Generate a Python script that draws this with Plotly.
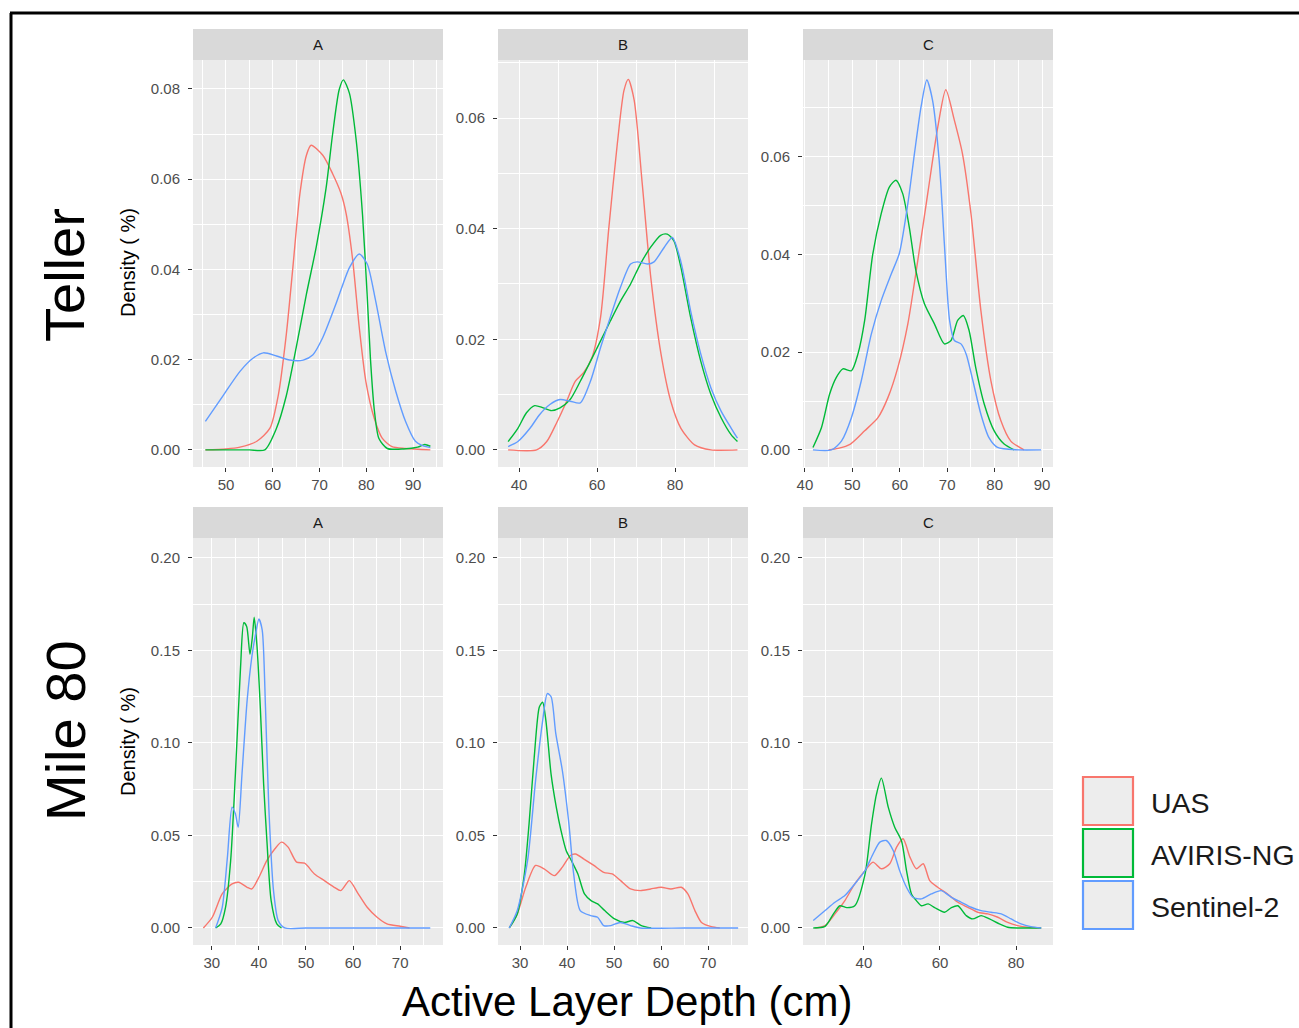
import plotly.graph_objects as go

W, H = 1299, 1028

SERIES = ["UAS", "AVIRIS-NG", "Sentinel-2"]
COLORS = ["#F8766D", "#00BA38", "#619CFF"]
PANELS = ["A", "B", "C"]
ROWS = ["Teller", "Mile 80"]

# ---------------- Teller ----------------
TA_UAS_X = [45.6, 50, 53, 56.6, 59.4, 61.2, 62.9, 64.3, 65.8, 67.2, 68.2, 70.7, 72.8, 74.6, 75.7, 77.1, 78.5, 79.9, 81.7, 83.4, 85.5, 88.4, 93.7]
TA_UAS_Y = [0, 0.0002, 0.0006, 0.0019, 0.0048, 0.0122, 0.0256, 0.0404, 0.0567, 0.0653, 0.0675, 0.0653, 0.0612, 0.0568, 0.0523, 0.042, 0.0271, 0.0152, 0.007, 0.0026, 0.0007, 0.0003, 0.0]
TA_AVI_X = [45.6, 50, 55, 58.3, 60.8, 62.9, 65, 67.2, 69.3, 71.4, 72.8, 74.2, 75.1, 76.4, 77.8, 79.2, 80.2, 80.9, 81.7, 82.7, 84.5, 88, 91, 92.5, 93.7]
TA_AVI_Y = [0, 0, 0, 0, 0.0048, 0.012, 0.0226, 0.0345, 0.045, 0.058, 0.070, 0.0798, 0.082, 0.079, 0.069, 0.052, 0.034, 0.02, 0.009, 0.0025, 0.0003, 0.0002, 0.0006, 0.0012, 0.0008]
TA_SEN_X = [45.6, 49.5, 53, 55.9, 58, 60.8, 63.6, 66.5, 68.6, 70.7, 73.5, 76.4, 78.5, 80.2, 82, 84.1, 86.3, 88.4, 90.5, 91.9, 93.7]
TA_SEN_Y = [0.0063, 0.0122, 0.0174, 0.0204, 0.0215, 0.0208, 0.0199, 0.0199, 0.0211, 0.0249, 0.0323, 0.0404, 0.0434, 0.0412, 0.033, 0.0219, 0.013, 0.0063, 0.0019, 0.001, 0.0005]

TB_UAS_X = [37.2, 44.5, 47.1, 49.7, 52.2, 54.4, 56.6, 58.7, 60.9, 63, 65.2, 66.9, 68, 69.5, 71.6, 73.8, 76.4, 78.9, 81.5, 85, 89.2, 96]
TB_UAS_Y = [0, 0, 0.0015, 0.005, 0.0088, 0.0124, 0.014, 0.0167, 0.024, 0.040, 0.0554, 0.065, 0.067, 0.0633, 0.048, 0.031, 0.0173, 0.0088, 0.0039, 0.0009, 0, 0]
TB_AVI_X = [37.2, 39.7, 41.9, 44, 46.2, 48.3, 50.5, 53.1, 55.7, 58.3, 60.9, 63.4, 66, 68.6, 71.1, 73.7, 76.3, 78, 79.7, 81.5, 84, 86.6, 89.2, 91.8, 94.4, 96]
TB_AVI_Y = [0.0015, 0.0039, 0.0067, 0.008, 0.0076, 0.0071, 0.0076, 0.0091, 0.0124, 0.016, 0.0197, 0.0233, 0.0269, 0.030, 0.0336, 0.0366, 0.0388, 0.039, 0.0378, 0.033, 0.0239, 0.016, 0.010, 0.0058, 0.0027, 0.0015]
TB_SEN_X = [37.2, 39.7, 42.8, 45.3, 47.9, 50.5, 53.1, 55.7, 58.3, 60.9, 63.4, 66, 68.6, 70.3, 72.9, 74.6, 77.2, 79.3, 81.5, 84, 86.6, 89.2, 91.8, 94.4, 96]
TB_SEN_Y = [0.0006, 0.0015, 0.0039, 0.0064, 0.0082, 0.0091, 0.0088, 0.0085, 0.0124, 0.0185, 0.024, 0.0294, 0.0336, 0.034, 0.0336, 0.034, 0.0366, 0.0384, 0.034, 0.0251, 0.0173, 0.0112, 0.007, 0.0039, 0.0021]

TC_UAS_X = [45, 47, 49.6, 52.6, 55.4, 57.5, 59.6, 61.7, 63.8, 65.9, 68, 69.7, 71.5, 73.2, 75, 77.1, 79.2, 81.3, 83.4, 86.2]
TC_UAS_Y = [0, 0.0003, 0.0012, 0.0039, 0.0066, 0.0107, 0.0169, 0.0258, 0.0388, 0.0525, 0.066, 0.0737, 0.0675, 0.0607, 0.0484, 0.0285, 0.0142, 0.006, 0.0018, 0]
TC_AVI_X = [41.7, 43.5, 45.2, 46.6, 48, 49.8, 51.2, 52.6, 54.3, 56.1, 57.8, 59.2, 60.6, 62, 63.4, 65.2, 67.3, 69.4, 70.8, 72.2, 73.4, 74.6, 76, 77.8, 79.9, 82, 84.1]
TC_AVI_Y = [0.0005, 0.0046, 0.0114, 0.0148, 0.0166, 0.0162, 0.0197, 0.0265, 0.040, 0.0484, 0.0538, 0.0552, 0.0525, 0.0456, 0.0367, 0.0299, 0.0258, 0.0217, 0.0224, 0.0265, 0.0275, 0.0245, 0.0169, 0.0094, 0.0039, 0.0012, 0]
TC_SEN_X = [41.7, 45.6, 47.7, 49.8, 51.9, 54, 56.1, 58.2, 59.9, 61.7, 63.1, 64.5, 65.7, 66.9, 68.3, 69.4, 70.5, 71.5, 72.9, 74, 75.4, 77.1, 78.8, 80.6, 85, 89.8]
TC_SEN_Y = [0, 0, 0.0018, 0.0066, 0.0142, 0.0237, 0.0306, 0.036, 0.0402, 0.0504, 0.0607, 0.0703, 0.0757, 0.0716, 0.0593, 0.0422, 0.0265, 0.0224, 0.0217, 0.0196, 0.0142, 0.0073, 0.0025, 0.0005, 0, 0]

# ---------------- Mile 80 ----------------
MA_UAS_X = [28.2, 30.1, 32.2, 34.3, 35.7, 37.5, 38.5, 40, 41.7, 43.4, 44.8, 46.2, 48, 49.7, 51.8, 53.9, 56, 57.4, 59.2, 60.9, 63, 65.1, 67.2, 70, 72]
MA_UAS_Y = [0, 0.0058, 0.0184, 0.0238, 0.0247, 0.022, 0.0211, 0.0274, 0.0365, 0.0428, 0.0464, 0.0437, 0.0356, 0.035, 0.0292, 0.0256, 0.022, 0.0202, 0.0256, 0.0193, 0.0112, 0.0058, 0.0022, 0.0009, 0]
MA_AVI_X = [30.8, 31.9, 32.9, 34, 35, 36.1, 36.8, 37.4, 38.1, 38.6, 39, 39.6, 40.3, 41, 41.7, 42.6, 43.8, 44.8]
MA_AVI_Y = [0, 0.0022, 0.011, 0.0365, 0.083, 0.141, 0.165, 0.163, 0.148, 0.157, 0.168, 0.152, 0.119, 0.078, 0.047, 0.0148, 0.0022, 0]
MA_SEN_X = [30.8, 32.2, 33.3, 34.3, 35, 35.6, 36.4, 37.5, 38.5, 39.3, 40, 40.7, 41.4, 42.1, 43.1, 44.1, 45.5, 50, 60, 70, 76.4]
MA_SEN_Y = [0, 0.011, 0.038, 0.0653, 0.0617, 0.0545, 0.083, 0.123, 0.1466, 0.159, 0.167, 0.161, 0.119, 0.0653, 0.0202, 0.004, 0, 0, 0, 0, 0]

MB_UAS_X = [27.7, 29.4, 31.2, 33.3, 35.1, 37.3, 39, 40.7, 41.8, 43.5, 45.7, 47.8, 49.6, 51.4, 53.5, 55.6, 57.8, 60, 62.1, 64.3, 65.7, 67.2, 68.6, 70.7, 72.5]
MB_UAS_Y = [0, 0.0076, 0.022, 0.0338, 0.032, 0.0283, 0.0329, 0.0392, 0.040, 0.0374, 0.0338, 0.0301, 0.0292, 0.0256, 0.0211, 0.0202, 0.0211, 0.022, 0.0211, 0.022, 0.0184, 0.0094, 0.003, 0.0007, 0]
MB_AVI_X = [27.7, 29.4, 30.9, 31.9, 33, 34.1, 34.8, 35.5, 36.6, 37.7, 38.7, 39.8, 40.9, 42.3, 43.7, 45.1, 46.5, 48, 50.1, 52.2, 54, 55.8, 57.9]
MB_AVI_Y = [0, 0.0076, 0.029, 0.056, 0.092, 0.1195, 0.122, 0.112, 0.083, 0.0653, 0.0527, 0.0419, 0.0365, 0.0292, 0.0184, 0.0148, 0.013, 0.0094, 0.0049, 0.003, 0.004, 0.0013, 0]
MB_SEN_X = [27.7, 29.4, 31.6, 33.3, 34.8, 35.8, 36.6, 37.6, 39, 40.4, 41.4, 42.8, 45, 46.5, 47.8, 49.3, 51.3, 53.5, 55.6, 65, 76.4]
MB_SEN_Y = [0, 0.0094, 0.0365, 0.0798, 0.112, 0.1267, 0.125, 0.105, 0.085, 0.056, 0.0292, 0.0094, 0.0067, 0.0058, 0.0013, 0.0013, 0.003, 0.0013, 0, 0, 0]

MC_UAS_X = [27.2, 29.8, 32.4, 35, 37.6, 40.3, 42.4, 44.6, 46.8, 48.6, 50.3, 52.1, 53.8, 55.6, 57.3, 59.4, 62, 64.7, 67.3, 69.9, 72.6, 75.2, 77.8, 80.4, 83.1, 86.6]
MC_UAS_Y = [0, 0.0013, 0.0076, 0.0148, 0.0238, 0.031, 0.0356, 0.032, 0.0347, 0.0437, 0.0482, 0.0383, 0.032, 0.0347, 0.0256, 0.022, 0.0184, 0.0139, 0.0112, 0.0085, 0.0076, 0.0058, 0.003, 0.0013, 0.0004, 0]
MC_AVI_X = [26.7, 29.8, 32, 33.7, 35.5, 37.6, 40.3, 42, 43.3, 44.6, 46.4, 48.1, 49.9, 51.2, 52.5, 53.8, 55.1, 56.9, 58.6, 61.2, 63, 64.7, 66.9, 68.6, 70.8, 73, 75.6, 77.8, 80.4, 86.6]
MC_AVI_Y = [0, 0.0009, 0.0076, 0.012, 0.011, 0.012, 0.029, 0.056, 0.0722, 0.081, 0.0653, 0.0545, 0.047, 0.031, 0.0184, 0.0148, 0.012, 0.013, 0.011, 0.0085, 0.011, 0.012, 0.0067, 0.0049, 0.0067, 0.0049, 0.0022, 0.0004, 0, 0]
MC_SEN_X = [26.7, 29.8, 32.4, 35, 37.6, 40.3, 42.4, 44.2, 45.9, 47.7, 49.4, 51.2, 52.9, 55.1, 57.7, 60.3, 63, 65.6, 68.2, 70.8, 73.4, 76.1, 78.7, 81.3, 83.9, 86.6]
MC_SEN_Y = [0.004, 0.0094, 0.0139, 0.0175, 0.0238, 0.031, 0.040, 0.0464, 0.0473, 0.0419, 0.031, 0.022, 0.0166, 0.0157, 0.0184, 0.0202, 0.0166, 0.0139, 0.0112, 0.0094, 0.0085, 0.0076, 0.0049, 0.0022, 0.0007, 0]

DATA = [
    [(TA_UAS_X, TA_UAS_Y), (TA_AVI_X, TA_AVI_Y), (TA_SEN_X, TA_SEN_Y)],
    [(TB_UAS_X, TB_UAS_Y), (TB_AVI_X, TB_AVI_Y), (TB_SEN_X, TB_SEN_Y)],
    [(TC_UAS_X, TC_UAS_Y), (TC_AVI_X, TC_AVI_Y), (TC_SEN_X, TC_SEN_Y)],
    [(MA_UAS_X, MA_UAS_Y), (MA_AVI_X, MA_AVI_Y), (MA_SEN_X, MA_SEN_Y)],
    [(MB_UAS_X, MB_UAS_Y), (MB_AVI_X, MB_AVI_Y), (MB_SEN_X, MB_SEN_Y)],
    [(MC_UAS_X, MC_UAS_Y), (MC_AVI_X, MC_AVI_Y), (MC_SEN_X, MC_SEN_Y)],
]

# axis settings per panel: x range, x dtick, y range, y dtick
X_RANGES = [[42.95, 96.4], [34.6, 98.7], [39.6, 92.3], [26.0, 79.1], [25.3, 78.5], [24.0, 89.7]]
X_DTICK = [10, 20, 10, 10, 10, 20]
Y_RANGES = [[-0.0038, 0.0864], [-0.0031, 0.0705], [-0.0035, 0.0798],
            [-0.0092, 0.2108], [-0.0092, 0.2108], [-0.0092, 0.2108]]
Y_DTICK = [0.02, 0.02, 0.02, 0.05, 0.05, 0.05]

COL_PX = [(193, 443), (498, 748), (803, 1053)]
ROW_PX = [(60, 467), (538, 945)]
STRIP_PX = [(29, 60), (507, 538)]
ROW_LABEL_Y = [275, 731]
DENSITY_Y = [262, 741]


def px(x):
    return x / W


def py(y):
    return 1 - y / H


FONT = "Liberation Sans, Arial, sans-serif"
fig = go.Figure()
layout = dict(
    width=W, height=H, margin=dict(l=0, r=0, t=0, b=0, pad=0, autoexpand=False),
    paper_bgcolor="white", plot_bgcolor="#ebebeb", showlegend=False,
    font=dict(family=FONT),
)
shapes = []
annotations = []

for i in range(6):
    r, c = divmod(i, 3)
    n = i + 1
    xa = "x" if n == 1 else f"x{n}"
    ya = "y" if n == 1 else f"y{n}"
    for s in range(3):
        xs, ys = DATA[i][s]
        fig.add_trace(go.Scatter(
            x=xs, y=ys, mode="lines", xaxis=xa, yaxis=ya,
            line=dict(color=COLORS[s], width=1.4, shape="spline", smoothing=0.7),
            name=SERIES[s], hoverinfo="skip"))
    common = dict(showline=False, zeroline=False, ticks="outside", ticklen=4,
                  tickwidth=1, tickcolor="#333333", automargin=False,
                  tickfont=dict(size=15, color="#4d4d4d", family=FONT),
                  showgrid=True, gridcolor="white", gridwidth=1.3)
    layout["xaxis" if n == 1 else f"xaxis{n}"] = dict(
        common, domain=[px(COL_PX[c][0]), px(COL_PX[c][1])], anchor=ya,
        range=X_RANGES[i], tick0=0, dtick=X_DTICK[i],
        minor=dict(tick0=0, dtick=X_DTICK[i] / 2, showgrid=True, gridcolor="white", gridwidth=0.6, ticks=""))
    layout["yaxis" if n == 1 else f"yaxis{n}"] = dict(
        common, domain=[py(ROW_PX[r][1]), py(ROW_PX[r][0])], anchor=xa,
        range=Y_RANGES[i], tick0=0, dtick=Y_DTICK[i], tickformat=".2f",
        ticklabelstandoff=5,
        minor=dict(tick0=0, dtick=Y_DTICK[i] / 2, showgrid=True, gridcolor="white", gridwidth=0.6, ticks=""))
    # facet strip
    shapes.append(dict(type="rect", xref="paper", yref="paper",
                       x0=px(COL_PX[c][0]), x1=px(COL_PX[c][1]),
                       y0=py(STRIP_PX[r][1]), y1=py(STRIP_PX[r][0]),
                       fillcolor="#d9d9d9", line=dict(width=0), layer="below"))
    annotations.append(dict(text=PANELS[c], xref="paper", yref="paper",
                            x=px((COL_PX[c][0] + COL_PX[c][1]) / 2),
                            y=py((STRIP_PX[r][0] + STRIP_PX[r][1]) / 2),
                            showarrow=False, font=dict(size=15, color="#1a1a1a", family=FONT),
                            xanchor="center", yanchor="middle"))

# row labels and y titles
for r, lab in enumerate(ROWS):
    annotations.append(dict(text=lab, xref="paper", yref="paper", x=px(65), y=py(ROW_LABEL_Y[r]),
                            textangle=-90, showarrow=False, xanchor="center", yanchor="middle",
                            font=dict(size=56, color="black", family=FONT)))
    annotations.append(dict(text="Density ( %)", xref="paper", yref="paper", x=px(128), y=py(DENSITY_Y[r]),
                            textangle=-90, showarrow=False, xanchor="center", yanchor="middle",
                            font=dict(size=20, color="black", family=FONT)))

annotations.append(dict(text="Active Layer Depth (cm)", xref="paper", yref="paper",
                        x=px(627), y=py(1001), showarrow=False, xanchor="center", yanchor="middle",
                        font=dict(size=42, color="black", family=FONT)))

# legend (manual keys)
LEG_Y = [(777, 825), (829, 877), (881, 929)]
for s in range(3):
    y0, y1 = LEG_Y[s]
    shapes.append(dict(type="rect", xref="paper", yref="paper",
                       x0=px(1083), x1=px(1133), y0=py(y1), y1=py(y0),
                       fillcolor="#ededed", line=dict(color=COLORS[s], width=2.2)))
    annotations.append(dict(text=SERIES[s], xref="paper", yref="paper",
                            x=px(1149), y=py((y0 + y1) / 2 + 2), showarrow=False,
                            xanchor="left", yanchor="middle",
                            font=dict(size=28.5, color="#1a1a1a", family=FONT)))

# outer frame lines
shapes.append(dict(type="line", xref="paper", yref="paper", x0=px(11), x1=px(11),
                   y0=py(13), y1=0, line=dict(color="black", width=3)))
shapes.append(dict(type="line", xref="paper", yref="paper", x0=px(10), x1=1,
                   y0=py(13), y1=py(13), line=dict(color="black", width=3)))

layout["shapes"] = shapes
layout["annotations"] = annotations
fig.update_layout(**layout)
fig.write_html("out.html")
